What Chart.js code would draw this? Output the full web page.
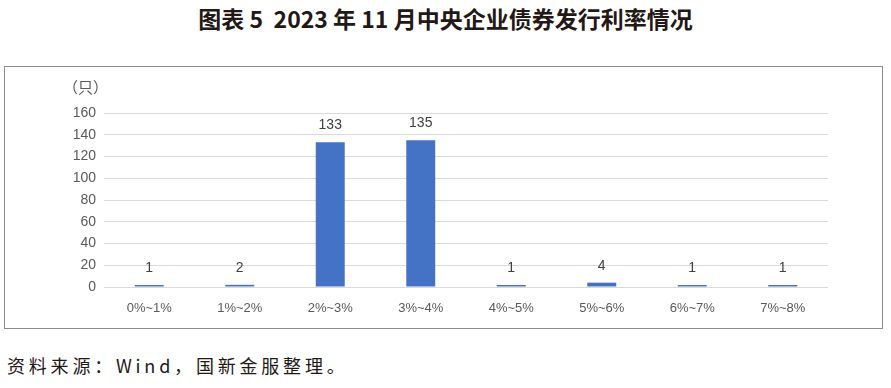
<!DOCTYPE html>
<html>
<head>
<meta charset="utf-8">
<script src="https://cdn.jsdelivr.net/npm/chart.js@4/dist/chart.umd.min.js"></script>
<style>
  html, body { margin: 0; padding: 0; background: #fff; }
  body { width: 891px; height: 388px; position: relative; overflow: hidden; }
  #title {
    position: absolute; left: 0; top: 1px; width: 891px; text-align: center;
    font-family: "Noto Sans CJK SC", sans-serif; font-weight: 700; font-size: 23px;
    color: #231815;
  }
  #box {
    position: absolute; left: 4px; top: 66px; width: 877px; height: 261px;
    border: 1px solid #8c8c8c;
  }
  #box canvas { display: block; }
  #source {
    position: absolute; left: 7px; top: 352px;
    font-family: "Noto Sans CJK SC", serif; font-size: 18px; color: #231815;
    letter-spacing: 3.8px;
  }
</style>
</head>
<body>
<div id="title">图表 5&nbsp; 2023 年 11 月中央企业债券发行利率情况</div>
<div id="box"><canvas id="chart" width="877" height="261"></canvas></div>
<div id="source">资料来源：Wind，国新金服整理。</div>
<script>
// 利率区间与发行只数
const categories = ["0%~1%", "1%~2%", "2%~3%", "3%~4%", "4%~5%", "5%~6%", "6%~7%", "7%~8%"];
const counts = [1, 2, 133, 135, 1, 4, 1, 1];
const yTicks = [0, 20, 40, 60, 80, 100, 120, 140, 160];
const unitLabel = "（只）";

const TEXT = "#595959";
const FONT = "Liberation Sans, Arial, sans-serif";

// 柱顶数值 + 单位标注
const labelPlugin = {
  id: "barLabels",
  afterDatasetsDraw(chart) {
    const ctx = chart.ctx;
    const meta = chart.getDatasetMeta(0);
    ctx.save();
    ctx.fillStyle = "#404040";
    ctx.font = "14px " + FONT;
    ctx.textAlign = "center";
    ctx.textBaseline = "bottom";
    meta.data.forEach((bar, i) => {
      ctx.fillText(String(counts[i]), bar.x, bar.y - 10);
    });
    ctx.fillStyle = TEXT;
    ctx.font = "15px 'Noto Sans CJK SC', sans-serif";
    ctx.textAlign = "left";
    ctx.textBaseline = "middle";
    ctx.fillText(unitLabel, 58, 20);
    ctx.restore();
  },
};

new Chart(document.getElementById("chart").getContext("2d"), {
  type: "bar",
  data: {
    labels: categories,
    datasets: [{
      data: counts,
      backgroundColor: "#4472c4",
      borderWidth: 0,
      barPercentage: 0.32,
      categoryPercentage: 1,
      minBarLength: 2,
    }],
  },
  options: {
    responsive: false,
    animation: false,
    layout: { padding: { top: 46, right: 54, left: 0, bottom: 0 } },
    plugins: { legend: { display: false }, tooltip: { enabled: false } },
    scales: {
      x: {
        grid: { display: false },
        border: { display: false },
        ticks: { color: TEXT, font: { family: FONT, size: 13 }, padding: 6, maxRotation: 0 },
        afterFit: (s) => { s.height = 41; },
      },
      y: {
        min: 0,
        max: 160,
        afterBuildTicks: (s) => { s.ticks = yTicks.map((v) => ({ value: v })); },
        grid: { color: "#d9d9d9", drawTicks: false, lineWidth: 1 },
        border: { display: false },
        ticks: { color: TEXT, font: { family: FONT, size: 14 }, padding: 8 },
        afterFit: (s) => { s.width = 99; },
      },
    },
  },
  plugins: [labelPlugin],
});
</script>
</body>
</html>
